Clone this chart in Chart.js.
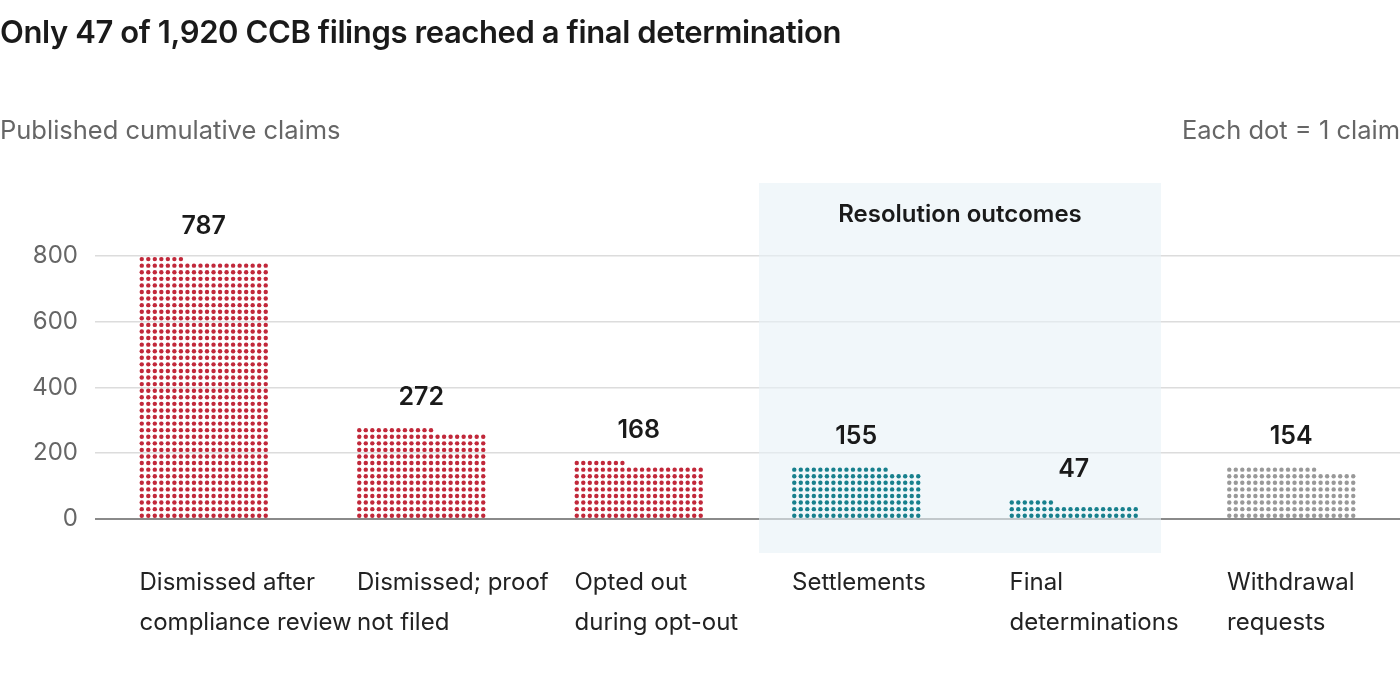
<!DOCTYPE html>
<html lang="en">
<head>
<meta charset="UTF-8">
<title>CCB filings</title>
<script src="https://cdn.jsdelivr.net/npm/chart.js"></script>
<style>
    body { margin: 0; width: 1400px; height: 700px; overflow: hidden; background: #fff; font-family: Inter, "Noto Sans", sans-serif; position: relative; }
    #chart { position: absolute; left: 0; top: 0; }
    .title { position: absolute; left: 0; top: 13px; font-size: 31px; font-weight: 600; color: #1a1a1a; letter-spacing: -0.4px; }
    .sub { position: absolute; top: 114px; font-size: 25.5px; color: #666; }
</style>
</head>
<body>
<canvas id="chart" width="1400" height="700"></canvas>
<div class="title">Only 47 of 1,920 CCB filings reached a final determination</div>
<div class="sub" style="left:0">Published cumulative claims</div>
<div class="sub" style="right:0">Each dot = 1 claim</div>

<script>
    const categories = [
        ['Dismissed after', 'compliance review'],
        ['Dismissed; proof', 'not filed'],
        ['Opted out', 'during opt-out'],
        ['Settlements'],
        ['Final', 'determinations'],
        ['Withdrawal', 'requests']
    ];
    const claims = [787, 272, 168, 155, 47, 154];
    const dotColors = ['#c1283a', '#c1283a', '#c1283a', '#17808d', '#17808d', '#999999'];
    const yTicks = [0, 200, 400, 600, 800];
    const perRow = 20;

    // draws dots, value labels, category labels and the shaded panel
    const dotPlugin = {
        id: 'dots',
        beforeDatasetsDraw(chart) {
            const ctx = chart.ctx;
            const meta = chart.getDatasetMeta(0);
            const b3 = meta.data[3], b4 = meta.data[4];
            const left = b3.x - b3.width / 2 - 32;
            const right = b4.x + b4.width / 2 + 22;
            ctx.save();
            ctx.fillStyle = 'rgba(232, 241, 247, 0.6)';
            ctx.fillRect(left, 183, right - left, 370);
            ctx.fillStyle = '#1a1a1a';
            ctx.font = '600 24px Inter';
            ctx.textAlign = 'center';
            ctx.textBaseline = 'middle';
            ctx.fillText('Resolution outcomes', (left + right) / 2, 215);
            ctx.restore();
        },
        afterDatasetsDraw(chart) {
            const ctx = chart.ctx;
            const meta = chart.getDatasetMeta(0);
            const y = chart.scales.y;
            ctx.save();
            meta.data.forEach((bar, i) => {
                const v = claims[i];
                const x0 = bar.x - bar.width / 2;
                const step = bar.width / perRow;
                ctx.fillStyle = dotColors[i];
                for (let n = 0; n < v; n++) {
                    const r = Math.floor(n / perRow), c = n % perRow;
                    const cy = y.getPixelForValue((r + 0.5) * perRow);
                    ctx.beginPath();
                    ctx.arc(x0 + (c + 0.5) * step, cy, 2.2, 0, Math.PI * 2);
                    ctx.fill();
                }
                const top = y.getPixelForValue(Math.ceil(v / perRow) * perRow);
                ctx.fillStyle = '#1a1a1a';
                ctx.font = '600 25px Inter';
                ctx.textAlign = 'center';
                ctx.textBaseline = 'alphabetic';
                ctx.fillText(v.toLocaleString('en-US'), bar.x, top - 22);
                ctx.fillStyle = '#222';
                ctx.font = '24px Inter';
                ctx.textAlign = 'left';
                ctx.textBaseline = 'middle';
                categories[i].forEach((line, k) => ctx.fillText(line, x0 + 1, 583 + k * 40));
            });
            ctx.restore();
        }
    };

    new Chart(document.getElementById('chart'), {
        type: 'bar',
        data: {
            labels: categories.map(c => c.join(' ')),
            datasets: [{ data: claims, backgroundColor: 'rgba(0,0,0,0)', barPercentage: 0.6, categoryPercentage: 1 }]
        },
        options: {
            responsive: false,
            animation: false,
            layout: { padding: { top: 190, bottom: 181, left: 0, right: 0 } },
            plugins: { legend: { display: false }, tooltip: { enabled: false } },
            scales: {
                x: { display: false },
                y: {
                    min: 0, max: 1000,
                    afterBuildTicks: s => { s.ticks = yTicks.map(v => ({ value: v })); },
                    afterFit: s => { s.width = 95; },
                    border: { display: false },
                    grid: { color: c => c.tick.value === 0 ? '#8a8a8a' : '#dcdcdc', lineWidth: c => c.tick.value === 0 ? 2 : 1.5, drawTicks: false },
                    ticks: { color: '#666', font: { family: 'Inter', size: 24 }, padding: 17 }
                }
            }
        },
        plugins: [dotPlugin]
    });
</script>
</body>
</html>
